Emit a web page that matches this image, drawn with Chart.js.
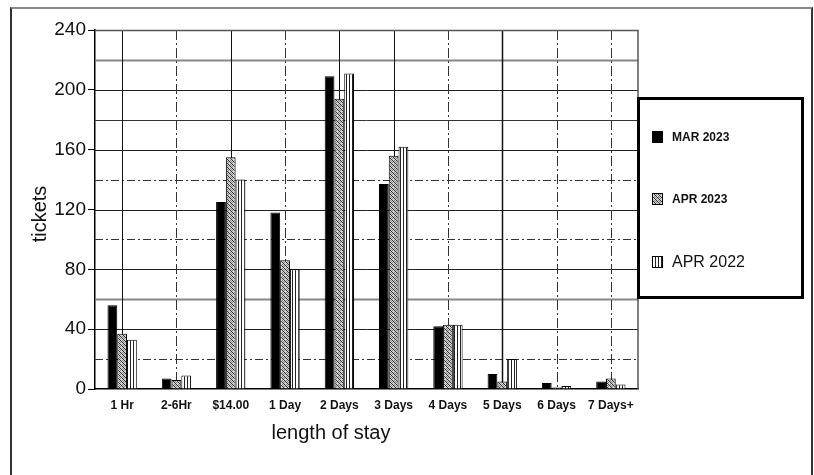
<!DOCTYPE html>
<html lang="en">
<head>
    <meta charset="UTF-8">
    <title>Tickets by length of stay</title>
    <script src="https://cdn.jsdelivr.net/npm/chart.js"></script>
    <style>
        body {
            margin: 0;
            background: #fff;
            font-family: Arial, "Liberation Sans", sans-serif;
        }
        .frame {
            position: absolute;
            left: 10px;
            top: 7px;
            width: 799px;
            height: 470px;
            border-left: 2px solid #333;
            border-top: 2px solid #888;
            border-right: 2px solid #333;
        }
        .wrap {
            position: absolute;
            left: 0;
            top: 0;
            width: 814px;
            height: 475px;
        }
    </style>
</head>
<body>
    <div class="frame"></div>
    <div class="wrap"><canvas id="stayChart" width="814" height="475"></canvas></div>

    <script>
        // values
        const categories = ['1 Hr', '2-6Hr', '$14.00', '1 Day', '2 Days', '3 Days', '4 Days', '5 Days', '6 Days', '7 Days+'];
        const mar2023 = [56, 7, 125, 118, 209, 137, 42, 10, 4, 5];
        const apr2023 = [37, 6, 155, 86, 194, 156, 43, 5, 1, 7];
        const apr2022 = [33, 9, 140, 80, 211, 162, 43, 20, 2, 3];
        const seriesNames = ['MAR 2023', 'APR 2023', 'APR 2022'];
        const yTicks = [0, 40, 80, 120, 160, 200, 240];

        function makePattern(draw, w, h) {
            const c = document.createElement('canvas');
            c.width = w;
            c.height = h;
            draw(c.getContext('2d'));
            return c.getContext('2d').createPattern(c, 'repeat');
        }

        // speckled grey hatch
        const greyFill = makePattern(g => {
            g.fillStyle = '#d0d0d0';
            g.fillRect(0, 0, 4, 4);
            g.fillStyle = '#333';
            g.fillRect(0, 0, 1, 1);
            g.fillRect(1, 1, 1, 1);
            g.fillRect(2, 2, 1, 1);
            g.fillRect(3, 3, 1, 1);
            g.fillStyle = '#888';
            g.fillRect(2, 0, 1, 1);
            g.fillRect(0, 2, 1, 1);
            g.fillRect(3, 1, 1, 1);
        }, 4, 4);

        // vertical stripes
        const stripeFill = makePattern(g => {
            g.fillStyle = '#fff';
            g.fillRect(0, 0, 3, 3);
            g.fillStyle = '#222';
            g.fillRect(1, 0, 1, 3);
        }, 3, 3);

        const fills = ['#000', greyFill, stripeFill];

        // grid drawn behind the bars, mixing solid and dash-dot lines like the print
        const gridPlugin = {
            id: 'gridPlugin',
            beforeDatasetsDraw(chart) {
                const { ctx, chartArea: a, scales: { x, y } } = chart;
                ctx.save();
                for (let v = 20; v < 240; v += 20) {
                    const py = Math.round(y.getPixelForValue(v)) + 0.5;
                    ctx.beginPath();
                    if (v % 40 === 0) {
                        ctx.setLineDash([]);
                        ctx.strokeStyle = '#222';
                        ctx.lineWidth = 1;
                    } else if (v === 220 || v === 60) {
                        ctx.setLineDash([]);
                        ctx.strokeStyle = '#888';
                        ctx.lineWidth = 2;
                    } else if (v === 180) {
                        ctx.setLineDash([]);
                        ctx.strokeStyle = '#333';
                        ctx.lineWidth = 1;
                    } else {
                        ctx.setLineDash([8, 3, 2, 3]);
                        ctx.strokeStyle = '#333';
                        ctx.lineWidth = 1;
                    }
                    ctx.moveTo(a.left, py);
                    ctx.lineTo(a.right, py);
                    ctx.stroke();
                }
                const solidCols = [0, 2, 4, 5, 7];
                categories.forEach((c, i) => {
                    const px = Math.round(x.getPixelForValue(i)) + 0.5;
                    ctx.beginPath();
                    if (solidCols.includes(i)) {
                        ctx.setLineDash([]);
                        ctx.strokeStyle = '#111';
                        ctx.lineWidth = i === 7 ? 1.5 : 1;
                    } else {
                        ctx.setLineDash([10, 3, 2, 3]);
                        ctx.strokeStyle = '#333';
                        ctx.lineWidth = 1;
                    }
                    ctx.moveTo(px, a.top);
                    ctx.lineTo(px, a.bottom);
                    ctx.stroke();
                });
                // top and right edges of the plot
                ctx.setLineDash([]);
                ctx.strokeStyle = '#555';
                ctx.lineWidth = 1.5;
                ctx.beginPath();
                ctx.moveTo(a.left, a.top + 0.5);
                ctx.lineTo(a.right, a.top + 0.5);
                ctx.lineTo(a.right, a.bottom);
                ctx.stroke();
                ctx.restore();
            }
        };

        // boxed legend and axis titles
        const decorPlugin = {
            id: 'decorPlugin',
            afterDraw(chart) {
                const ctx = chart.ctx;
                ctx.save();
                ctx.fillStyle = '#fff';
                ctx.fillRect(637, 97, 167, 202);
                ctx.strokeStyle = '#000';
                ctx.lineWidth = 3;
                ctx.strokeRect(638.5, 98.5, 164, 199);

                const rows = [137, 199, 262];
                const fonts = ['bold 12px Arial', 'bold 12px Arial', '16px Arial'];
                chart.data.datasets.forEach((ds, i) => {
                    const cy = rows[i];
                    ctx.fillStyle = ds.backgroundColor;
                    ctx.fillRect(652, cy - 6, 11, 12);
                    ctx.lineWidth = 1;
                    ctx.strokeStyle = '#000';
                    ctx.strokeRect(652.5, cy - 5.5, 10, 11);
                    ctx.fillStyle = '#111';
                    ctx.font = fonts[i];
                    ctx.textBaseline = 'middle';
                    ctx.textAlign = 'left';
                    ctx.fillText(ds.label, 672, cy + 1);
                });

                ctx.fillStyle = '#111';
                ctx.font = '20px Arial';
                ctx.textAlign = 'center';
                ctx.textBaseline = 'middle';
                ctx.fillText('length of stay', 331, 433);

                ctx.translate(40, 214);
                ctx.rotate(-Math.PI / 2);
                ctx.fillText('tickets', 0, 0);
                ctx.restore();
            }
        };

        const ctx = document.getElementById('stayChart').getContext('2d');
        const chart = new Chart(ctx, {
            type: 'bar',
            data: {
                labels: categories,
                datasets: [mar2023, apr2023, apr2022].map((vals, i) => ({
                    label: seriesNames[i],
                    data: vals,
                    backgroundColor: fills[i],
                    borderColor: '#000',
                    borderWidth: 1,
                    categoryPercentage: 0.54,
                    barPercentage: 1
                }))
            },
            options: {
                responsive: false,
                animation: false,
                layout: {
                    padding: { top: 30, right: 176, left: 0, bottom: 0 }
                },
                plugins: {
                    legend: { display: false },
                    tooltip: { enabled: false }
                },
                scales: {
                    x: {
                        grid: { display: false },
                        border: { display: true, color: '#000', width: 1.5 },
                        ticks: {
                            color: '#111',
                            padding: 1,
                            maxRotation: 0,
                            autoSkip: false,
                            font: { family: 'Arial', size: 12, weight: 'bold' }
                        },
                        afterFit(scale) { scale.height = 86; }
                    },
                    y: {
                        min: 0,
                        max: 240,
                        afterBuildTicks(scale) {
                            scale.ticks = yTicks.map(v => ({ value: v }));
                        },
                        grid: {
                            drawOnChartArea: false,
                            drawTicks: true,
                            tickLength: 7,
                            color: '#000'
                        },
                        border: { display: true, color: '#000', width: 1.5 },
                        ticks: {
                            color: '#111',
                            padding: 2,
                            font: { family: 'Arial', size: 19 }
                        },
                        afterFit(scale) { scale.width = 95; }
                    }
                }
            },
            plugins: [gridPlugin, decorPlugin]
        });
    </script>
</body>
</html>
